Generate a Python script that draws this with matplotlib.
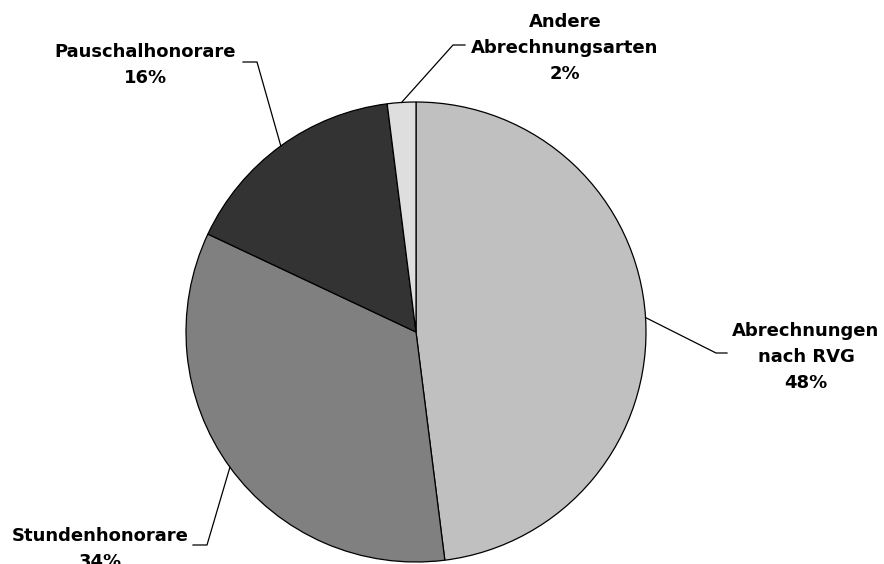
import numpy as np
import matplotlib.pyplot as plt

# data
labels = ['Abrechnungen\nnach RVG', 'Stundenhonorare', 'Pauschalhonorare', 'Andere\nAbrechnungsarten']
shares = [48, 34, 16, 2]
colors = ['#c0c0c0', '#808080', '#333333', '#dedede']

# layout (pixel coords, y measured from bottom of the figure)
W, H = 884, 564
center = (416, H - 332)
radius = 230
# label text centre, elbow of leader line, end of leader line
label_pos = [(806, H - 357), (100, H - 549), (145, H - 65), (565, H - 48)]
elbow_pos = [(716, H - 353), (207, H - 545), (257, H - 62), (453, H - 45)]
end_pos = [(727, H - 353), (193, H - 545), (243, H - 62), (465, H - 45)]

plt.rcParams['font.family'] = ['DejaVu Sans']

fig = plt.figure(figsize=(W / 100, H / 100), dpi=100)
ax = fig.add_axes([0, 0, 1, 1])

wedges, _ = ax.pie(shares, colors=colors, startangle=90, counterclock=False,
                   center=center, radius=radius,
                   wedgeprops={'edgecolor': 'black', 'linewidth': 0.9})

# pie() sets its own limits, so fix them afterwards
ax.set_xlim(0, W)
ax.set_ylim(0, H)
ax.set_aspect('equal')
ax.axis('off')

for w, lab, val, tp, ep, xp in zip(wedges, labels, shares, label_pos, elbow_pos, end_pos):
    mid = np.deg2rad((w.theta1 + w.theta2) / 2)
    sx = center[0] + radius * np.cos(mid)
    sy = center[1] + radius * np.sin(mid)
    ax.plot([sx, ep[0], xp[0]], [sy, ep[1], xp[1]], color='black', lw=0.9)
    ax.text(tp[0], tp[1], f'{lab}\n{val}%', ha='center', va='center',
            fontsize=13, fontweight='bold', linespacing=1.55, color='black')

fig.savefig('out.png', dpi=100)
